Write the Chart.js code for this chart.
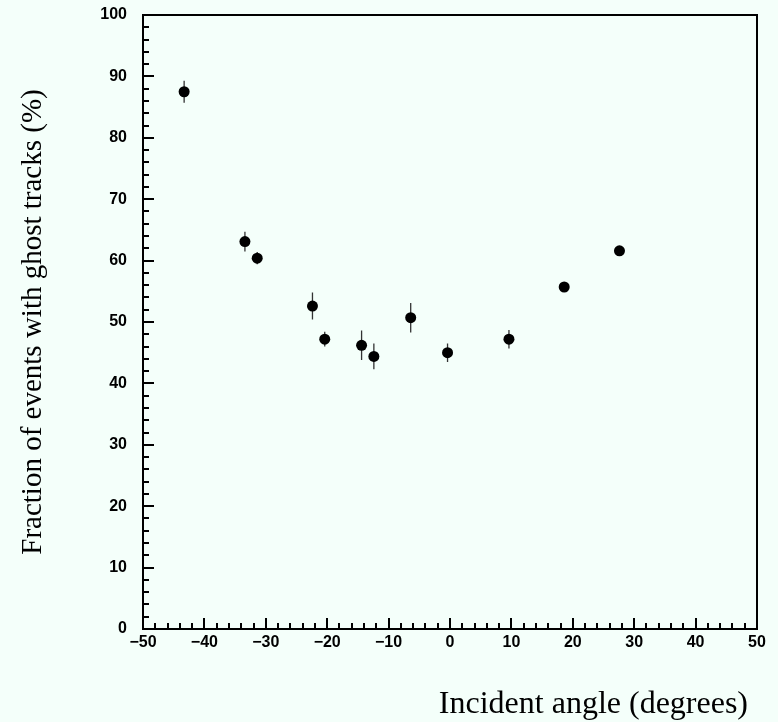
<!DOCTYPE html>
<html>
<head>
<meta charset="utf-8">
<script src="https://cdn.jsdelivr.net/npm/chart.js@4/dist/chart.umd.min.js"></script>
<style>
  html, body { margin: 0; padding: 0; background: #f4fffa; }
  #wrap { width: 778px; height: 722px; }
</style>
</head>
<body>
<div id="wrap"><canvas id="c" width="778" height="722"></canvas></div>
<script>
// ---- data ----
const angles    = [-43.3, -33.4, -31.4, -22.4, -20.4, -14.4, -12.4, -6.4, -0.4, 9.6, 18.6, 27.6];
const fractions = [87.5, 63.1, 60.4, 52.6, 47.2, 46.2, 44.4, 50.7, 45.0, 47.2, 55.7, 61.6];
const errors    = [1.8, 1.6, 1.0, 2.2, 1.2, 2.4, 2.1, 2.4, 1.5, 1.5, 0.6, 0.5];
const xTickLabels = ['\u221250', '\u221240', '\u221230', '\u221220', '\u221210', '0', '10', '20', '30', '40', '50'];
const yTickLabels = ['0', '10', '20', '30', '40', '50', '60', '70', '80', '90', '100'];
const xTitle = 'Incident angle (degrees)';
const yTitle = 'Fraction of events with ghost tracks (%)';

const points = angles.map((a, i) => ({ x: a, y: fractions[i] }));

const bgPlugin = {
  id: 'bg',
  beforeDraw(chart) {
    const ctx = chart.ctx;
    ctx.save();
    ctx.fillStyle = '#f4fffa';
    ctx.fillRect(0, 0, chart.width, chart.height);
    ctx.restore();
  }
};

const framePlugin = {
  id: 'frame',
  beforeDatasetsDraw(chart) {
    const { ctx, chartArea: ca, scales } = chart;
    const xs = scales.x, ys = scales.y;
    ctx.save();
    ctx.strokeStyle = '#000';
    ctx.lineWidth = 2;
    ctx.beginPath();
    ctx.moveTo(ca.left, ca.top); ctx.lineTo(ca.right, ca.top); ctx.lineTo(ca.right, ca.bottom);
    ctx.stroke();
    // inward tick marks on bottom and left axes
    ctx.beginPath();
    for (let v = xs.min; v <= xs.max + 1e-9; v += 2) {
      const px = Math.round(xs.getPixelForValue(v));
      const len = (Math.round(v) % 10 === 0) ? 11 : 6;
      ctx.moveTo(px, ca.bottom); ctx.lineTo(px, ca.bottom - len);
    }
    for (let v = ys.min; v <= ys.max + 1e-9; v += 2) {
      const py = Math.round(ys.getPixelForValue(v));
      const len = (Math.round(v) % 10 === 0) ? 11 : 6;
      ctx.moveTo(ca.left, py); ctx.lineTo(ca.left + len, py);
    }
    ctx.stroke();
    // error bars
    ctx.strokeStyle = '#333';
    ctx.lineWidth = 1.3;
    ctx.beginPath();
    points.forEach((p, i) => {
      const px = xs.getPixelForValue(p.x);
      ctx.moveTo(px, ys.getPixelForValue(p.y - errors[i]));
      ctx.lineTo(px, ys.getPixelForValue(p.y + errors[i]));
    });
    ctx.stroke();
    ctx.restore();
  },
  afterDraw(chart) {
    // x-axis title, right-aligned a little inside the frame's right edge
    const ctx = chart.ctx;
    ctx.save();
    ctx.fillStyle = '#000';
    ctx.font = '32px "Liberation Serif", "Times New Roman", serif';
    ctx.textAlign = 'right';
    ctx.textBaseline = 'alphabetic';
    ctx.fillText(xTitle, chart.chartArea.right - 9, 713);
    ctx.restore();
  }
};

const tickFont = { family: '"Liberation Sans", Arial, sans-serif', size: 16, weight: 'bold' };

new Chart(document.getElementById('c'), {
  type: 'scatter',
  data: {
    datasets: [{
      data: points,
      backgroundColor: '#000',
      borderColor: '#000',
      borderWidth: 0,
      pointRadius: 5.5,
      pointHoverRadius: 5.5
    }]
  },
  options: {
    responsive: false,
    animation: false,
    events: [],
    layout: { padding: { top: 15, right: 21, left: 0, bottom: 0 } },
    plugins: { legend: { display: false }, tooltip: { enabled: false } },
    scales: {
      x: {
        type: 'linear', min: -50, max: 50,
        afterFit(s) { s.height = 93; s.paddingLeft = 0; s.paddingRight = 0; },
        grid: { display: false, drawTicks: false },
        border: { display: true, color: '#000', width: 2 },
        ticks: {
          stepSize: 10, padding: 4, color: '#000', font: tickFont, maxRotation: 0,
          callback: (v, i) => xTickLabels[i]
        },
        title: { display: false, text: xTitle }
      },
      y: {
        type: 'linear', min: 0, max: 100,
        afterFit(s) { s.width = 143; s.paddingTop = 0; s.paddingBottom = 0; },
        grid: { display: false, drawTicks: false },
        border: { display: true, color: '#000', width: 2 },
        ticks: {
          stepSize: 10, padding: 16, color: '#000', font: tickFont,
          callback: (v, i) => yTickLabels[i]
        },
        title: {
          display: true, text: yTitle, align: 'center', color: '#000',
          font: { family: '"Liberation Serif", "Times New Roman", serif', size: 29 },
          padding: { top: 16, bottom: 0 }
        }
      }
    }
  },
  plugins: [bgPlugin, framePlugin]
});
</script>
</body>
</html>
